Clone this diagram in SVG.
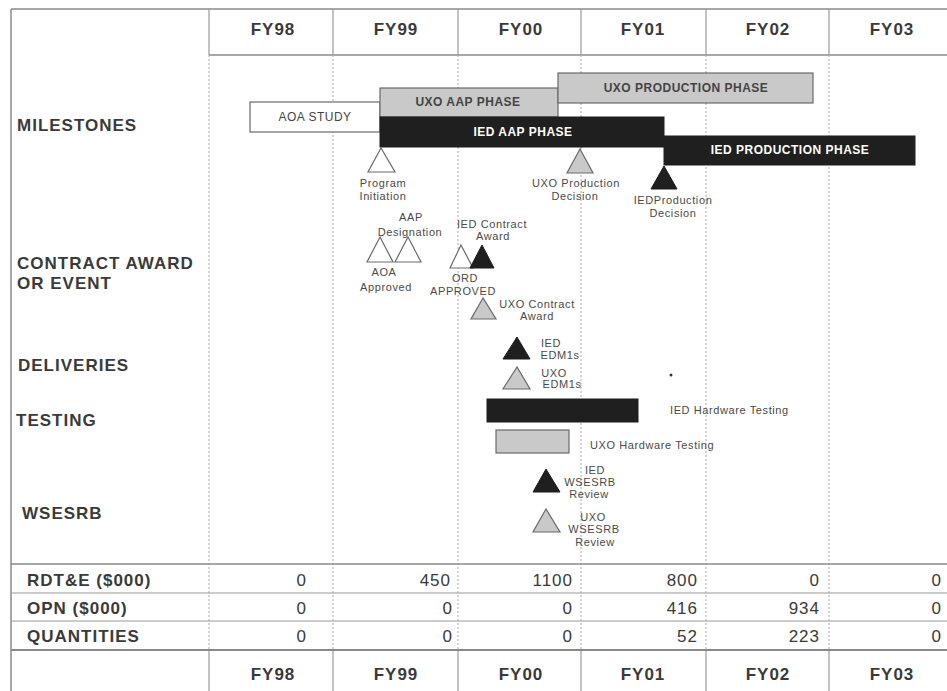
<svg xmlns="http://www.w3.org/2000/svg" width="947" height="691" viewBox="0 0 947 691">
<style>
  .frame{stroke:#8a8a8a;stroke-width:1.5;fill:none}
  .solid{stroke:#9a9a9a;stroke-width:1.2;fill:none}
  .dot{stroke:#a8a8a8;stroke-width:1;stroke-dasharray:2 2;fill:none}
  .hdr{font-family:"Liberation Sans",Arial,sans-serif;font-weight:bold;font-size:17px;letter-spacing:1px;fill:#3a3a3a;text-anchor:middle}
  .row{font-family:"Liberation Sans",Arial,sans-serif;font-weight:bold;font-size:17px;letter-spacing:1px;fill:#3a3a3a}
  .val{font-family:"Liberation Sans",Arial,sans-serif;font-size:17px;letter-spacing:1px;fill:#3a3a3a;text-anchor:end}
  .blk{fill:#1f1f1f;stroke:#1f1f1f;stroke-width:1}
  .gry{fill:#c9c9c9;stroke:#6a6a6a;stroke-width:1.2}
  .wht{fill:#ffffff;stroke:#6a6a6a;stroke-width:1.2}
  .bartxt{font-family:"Liberation Sans",Arial,sans-serif;font-weight:bold;font-size:12px;letter-spacing:0.5px;text-anchor:middle}
  .lbl{font-family:"Liberation Sans",Arial,sans-serif;font-size:11px;letter-spacing:0.6px;fill:#4a4a4a;text-anchor:middle}
  .lbls{font-family:"Liberation Sans",Arial,sans-serif;font-size:11px;letter-spacing:0.6px;fill:#4a4a4a}
</style>
<rect width="947" height="691" fill="#ffffff"/>

<g id="grid">
  <line class="frame" x1="11" y1="9" x2="947" y2="9"/>
  <line class="frame" x1="11" y1="9" x2="11" y2="691"/>
  <line class="frame" x1="209" y1="55" x2="947" y2="55"/>
  <g class="solid">
    <line x1="209" y1="9" x2="209" y2="55"/>
    <line x1="333" y1="9" x2="333" y2="55"/>
    <line x1="458" y1="9" x2="458" y2="55"/>
    <line x1="581" y1="9" x2="581" y2="55"/>
    <line x1="706" y1="9" x2="706" y2="55"/>
    <line x1="829" y1="9" x2="829" y2="55"/>
    <line x1="209" y1="651" x2="209" y2="691"/>
    <line x1="333" y1="651" x2="333" y2="691"/>
    <line x1="458" y1="651" x2="458" y2="691"/>
    <line x1="581" y1="651" x2="581" y2="691"/>
    <line x1="706" y1="651" x2="706" y2="691"/>
    <line x1="829" y1="651" x2="829" y2="691"/>
  </g>
  <g class="dot">
    <line x1="209" y1="55" x2="209" y2="651"/>
    <line x1="333" y1="55" x2="333" y2="651"/>
    <line x1="458" y1="55" x2="458" y2="651"/>
    <line x1="581" y1="55" x2="581" y2="651"/>
    <line x1="706" y1="55" x2="706" y2="651"/>
    <line x1="829" y1="55" x2="829" y2="651"/>
  </g>
  <line class="frame" x1="11" y1="564" x2="947" y2="564"/>
  <line class="solid" x1="11" y1="593" x2="947" y2="593"/>
  <line class="solid" x1="11" y1="621" x2="947" y2="621"/>
  <line class="frame" x1="11" y1="650" x2="947" y2="650" style="stroke-width:2.2"/>
</g>

<g id="header-top">
  <text class="hdr" x="273" y="35">FY98</text>
  <text class="hdr" x="396" y="35">FY99</text>
  <text class="hdr" x="521" y="35">FY00</text>
  <text class="hdr" x="643" y="35">FY01</text>
  <text class="hdr" x="768" y="35">FY02</text>
  <text class="hdr" x="892" y="35">FY03</text>
</g>

<g id="row-labels">
  <text class="row" x="17" y="131">MILESTONES</text>
  <text class="row" x="17" y="269">CONTRACT AWARD</text>
  <text class="row" x="17" y="289">OR EVENT</text>
  <text class="row" x="18" y="371">DELIVERIES</text>
  <text class="row" x="16" y="426">TESTING</text>
  <text class="row" x="22" y="519">WSESRB</text>
</g>

<g id="aoa-study">
  <rect class="wht" x="250" y="102" width="130" height="30"/>
  <text class="bartxt" x="315" y="121" style="font-weight:normal;fill:#444">AOA STUDY</text>
</g>
<g id="uxo-aap-phase">
  <rect class="gry" x="380" y="88" width="178" height="29"/>
  <text class="bartxt" x="468" y="106" fill="#444">UXO AAP PHASE</text>
</g>
<g id="uxo-production-phase">
  <rect class="gry" x="558" y="73" width="255" height="30"/>
  <text class="bartxt" x="686" y="92" fill="#444">UXO PRODUCTION PHASE</text>
</g>
<g id="ied-aap-phase">
  <rect class="blk" x="380" y="117" width="284" height="30"/>
  <text class="bartxt" x="523" y="136" fill="#ffffff">IED AAP PHASE</text>
</g>
<g id="ied-production-phase">
  <rect class="blk" x="664" y="136" width="251" height="29"/>
  <text class="bartxt" x="790" y="154" fill="#ffffff">IED PRODUCTION PHASE</text>
</g>

<g id="program-initiation">
  <polygon class="wht" points="381,148 368,172 395,172"/>
  <text class="lbl" x="383" y="187">Program</text>
  <text class="lbl" x="383" y="200">Initiation</text>
</g>
<g id="uxo-production-decision">
  <polygon class="gry" points="580,149 567,173 593,173"/>
  <text class="lbl" x="576" y="187">UXO Production</text>
  <text class="lbl" x="575" y="200">Decision</text>
</g>
<g id="ied-production-decision">
  <polygon class="blk" points="664,166 651,189 677,189"/>
  <text class="lbl" x="673" y="204">IEDProduction</text>
  <text class="lbl" x="673" y="217">Decision</text>
</g>

<g id="aap-designation">
  <polygon class="wht" points="408,237 395,262 421,262"/>
  <text class="lbl" x="411" y="221">AAP</text>
  <text class="lbl" x="410" y="236">Designation</text>
</g>
<g id="aoa-approved">
  <polygon class="wht" points="380,237 367,262 393,262"/>
  <text class="lbl" x="384" y="276">AOA</text>
  <text class="lbl" x="386" y="291">Approved</text>
</g>
<g id="ord-approved">
  <polygon class="wht" points="461,245 450,268 473,268"/>
  <text class="lbl" x="465" y="282">ORD</text>
  <text class="lbl" x="463" y="295">APPROVED</text>
</g>
<g id="ied-contract-award">
  <polygon class="blk" points="482,245 470,268 494,268"/>
  <text class="lbl" x="492" y="228">IED Contract</text>
  <text class="lbl" x="493" y="240">Award</text>
</g>
<g id="uxo-contract-award">
  <polygon class="gry" points="483,298 471,319 496,319"/>
  <text class="lbl" x="537" y="308">UXO Contract</text>
  <text class="lbl" x="537" y="320">Award</text>
</g>

<g id="ied-edm1s">
  <polygon class="blk" points="517,337 503,359 530,359"/>
  <text class="lbl" x="551" y="347">IED</text>
  <text class="lbl" x="560" y="359">EDM1s</text>
</g>
<g id="uxo-edm1s">
  <polygon class="gry" points="517,367 503,389 530,389"/>
  <text class="lbl" x="554" y="377">UXO</text>
  <text class="lbl" x="562" y="388">EDM1s</text>
</g>
<circle cx="671" cy="375" r="1.5" fill="#333"/>

<g id="ied-hardware-testing">
  <rect class="blk" x="487" y="399" width="151" height="23"/>
  <text class="lbls" x="670" y="414">IED Hardware Testing</text>
</g>
<g id="uxo-hardware-testing">
  <rect class="gry" x="496" y="430" width="73" height="23"/>
  <text class="lbls" x="590" y="449">UXO Hardware Testing</text>
</g>

<g id="ied-wsesrb-review">
  <polygon class="blk" points="546,469 533,492 560,492"/>
  <text class="lbl" x="595" y="474">IED</text>
  <text class="lbl" x="590" y="486">WSESRB</text>
  <text class="lbl" x="589" y="498">Review</text>
</g>
<g id="uxo-wsesrb-review">
  <polygon class="gry" points="546,509 533,532 560,532"/>
  <text class="lbl" x="593" y="521">UXO</text>
  <text class="lbl" x="594" y="533">WSESRB</text>
  <text class="lbl" x="595" y="546">Review</text>
</g>

<g id="table">
  <text class="row" x="27" y="586">RDT&amp;E ($000)</text>
  <text class="row" x="27" y="614">OPN ($000)</text>
  <text class="row" x="27" y="642">QUANTITIES</text>

  <text class="val" x="307" y="586">0</text>
  <text class="val" x="451" y="586">450</text>
  <text class="val" x="573" y="586">1100</text>
  <text class="val" x="698" y="586">800</text>
  <text class="val" x="820" y="586">0</text>
  <text class="val" x="942" y="586">0</text>

  <text class="val" x="307" y="614">0</text>
  <text class="val" x="453" y="614">0</text>
  <text class="val" x="573" y="614">0</text>
  <text class="val" x="698" y="614">416</text>
  <text class="val" x="820" y="614">934</text>
  <text class="val" x="942" y="614">0</text>

  <text class="val" x="307" y="642">0</text>
  <text class="val" x="453" y="642">0</text>
  <text class="val" x="573" y="642">0</text>
  <text class="val" x="698" y="642">52</text>
  <text class="val" x="820" y="642">223</text>
  <text class="val" x="942" y="642">0</text>
</g>

<g id="header-bottom">
  <text class="hdr" x="273" y="680">FY98</text>
  <text class="hdr" x="396" y="680">FY99</text>
  <text class="hdr" x="521" y="680">FY00</text>
  <text class="hdr" x="643" y="680">FY01</text>
  <text class="hdr" x="768" y="680">FY02</text>
  <text class="hdr" x="892" y="680">FY03</text>
</g>
</svg>
